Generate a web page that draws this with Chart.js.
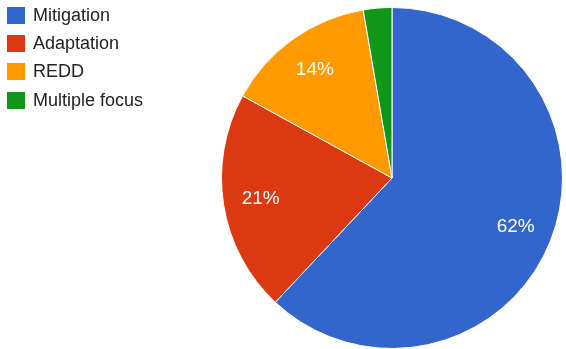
<!DOCTYPE html>
<html>
<head>
<meta charset="utf-8">
<script src="https://cdn.jsdelivr.net/npm/chart.js@4.4.0/dist/chart.umd.min.js"></script>
<style>
  html, body { margin: 0; padding: 0; background: #fff; }
  #wrap { position: relative; width: 566px; height: 349px; }
  #legend { position: absolute; left: 7px; top: 1px; font-family: "Liberation Sans", Arial, sans-serif; font-size: 18px; color: #222; }
  .item { display: flex; align-items: center; height: 28.3px; }
  .box { width: 18px; height: 17px; margin-right: 8px; }
</style>
</head>
<body>
<div id="wrap">
  <canvas id="pie" width="566" height="349"></canvas>
  <div id="legend"></div>
</div>
<script>
const labels = ['Mitigation', 'Adaptation', 'REDD', 'Multiple focus'];
const values = [62.0, 21.0, 14.3, 2.7];
const colors = ['#3366cc', '#dc3912', '#ff9900', '#109618'];

document.getElementById('legend').innerHTML = labels.map((l, i) =>
  `<div class="item"><span class="box" style="background:${colors[i]}"></span>${l}</div>`
).join('');

const total = values.reduce((a, b) => a + b, 0);

// percentage text inside each slice (small slices get none)
const sliceLabels = {
  id: 'sliceLabels',
  afterDatasetsDraw(chart) {
    const ctx = chart.ctx;
    const meta = chart.getDatasetMeta(0);
    ctx.save();
    ctx.fillStyle = '#fff';
    ctx.font = '19px "Liberation Sans", Arial, sans-serif';
    ctx.textAlign = 'center';
    ctx.textBaseline = 'middle';
    meta.data.forEach((arc, i) => {
      const pct = values[i] / total * 100;
      if (pct < 5) return;
      const p = arc.getProps(['x', 'y', 'startAngle', 'endAngle', 'outerRadius']);
      const a = (p.startAngle + p.endAngle) / 2;
      const r = p.outerRadius * 0.78;
      ctx.fillText(Math.round(pct) + '%', p.x + Math.cos(a) * r, p.y + Math.sin(a) * r);
    });
    ctx.restore();
  }
};

new Chart(document.getElementById('pie').getContext('2d'), {
  type: 'pie',
  data: {
    labels,
    datasets: [{
      data: values,
      backgroundColor: colors,
      borderColor: '#fff',
      borderWidth: 1,
    }]
  },
  options: {
    responsive: false,
    animation: false,
    layout: { padding: { left: 221, right: 3, top: 7, bottom: 0 } },
    plugins: { legend: { display: false }, tooltip: { enabled: false } }
  },
  plugins: [sliceLabels]
});
</script>
</body>
</html>
